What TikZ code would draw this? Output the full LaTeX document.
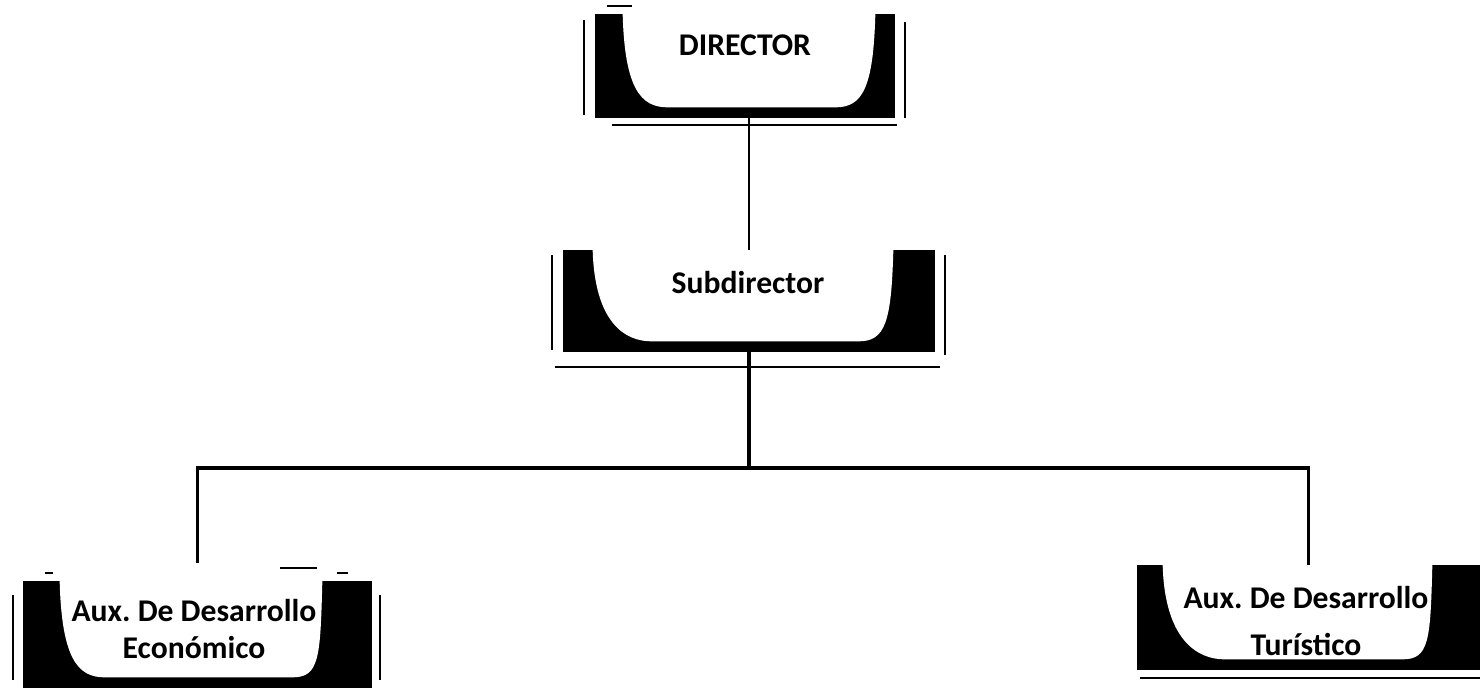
\documentclass[tikz,border=0pt]{standalone}
\usepackage{fontspec}
\setmainfont{Carlito}
\frenchspacing
\usetikzlibrary{fit,calc}
\newcommand{\whiteu}[5]{%
 \fill[white] ($(#1.north west)+(#2,0)$) -- ($(#1.north east)+(-#4,0)$) .. controls ($(#1.south east)+(-#4-2,-30)$) and ($(#1.south east)+(-#5+12,-11)$) .. ($(#1.south east)+(-#5-15,-11)$) -- ($(#1.south west)+(#3+15,-11)$) .. controls ($(#1.south west)+(#3-12,-11)$) and ($(#1.south west)+(#2+2,-30)$) .. cycle;}
\tikzset{
 orgbox/.style={inner sep=0pt, fill=black, draw=none},
 boxtext/.style={font=\bfseries\fontsize{18}{21.6}\selectfont, align=center, inner sep=0pt},
 frame/.style={line width=0.9pt},
 conn/.style={line width=1.9pt},
 thinconn/.style={line width=1.2pt},
}
\begin{document}
\begin{tikzpicture}[x=0.02cm,y=-0.02cm]
\useasboundingbox[fill=white] (0,0) rectangle (1483,690);
% boxes
\node[orgbox, fit={(595,14) (895,118)}] (dir) {};
\node[orgbox, fit={(563,250) (935,352)}] (sub) {};
\node[orgbox, fit={(23,581) (372,688)}] (eco) {};
\node[orgbox, fit={(1137,565) (1480,670)}] (tur) {};
\whiteu{dir}{28}{58}{20}{45}
\whiteu{sub}{30}{74}{42}{62}
\whiteu{eco}{37}{67}{50}{65}
\whiteu{tur}{26}{73}{48}{63}
% texts
\node[boxtext, anchor=base] (dirt) at (745,55) {DIRECTOR};
\node[boxtext, anchor=base] (subt) at (748,293) {Subdirector};
\node[boxtext] (ecot) at (194,629) {Aux. De Desarrollo\\[0pt] Económico};
\node[boxtext] (turt) at (1306,621) {Aux. De Desarrollo\\[5.6pt] Turístico};
% frame lines
\draw[frame] (584,20) -- (584,115);
\draw[frame] (905,22) -- (905,118);
\draw[frame] (612,125) -- (897,125);
\draw[frame] (607,6) -- (632,6);
\draw[frame] (552,255) -- (552,350);
\draw[frame] (945,255) -- (945,355);
\draw[frame] (555,367) -- (940,367);
\draw[frame] (13,595) -- (13,680);
\draw[frame] (380,595) -- (380,680);
\draw[frame] (45,573) -- (53,573);
\draw[frame] (280,568) -- (317,568);
\draw[frame] (337,573) -- (348,573);
\draw[frame] (1140,678) -- (1480,678);
% connectors
\coordinate (j) at (749,468);
\draw[thinconn] (sub.north |- dir.south) -- (sub.north);
\draw[conn] (sub.south) -- (j);
\draw[conn, shorten <=0.36cm] (eco.north) -- (eco.north |- j) -- (tur.north |- j) -- (tur.north);
\end{tikzpicture}
\end{document}
